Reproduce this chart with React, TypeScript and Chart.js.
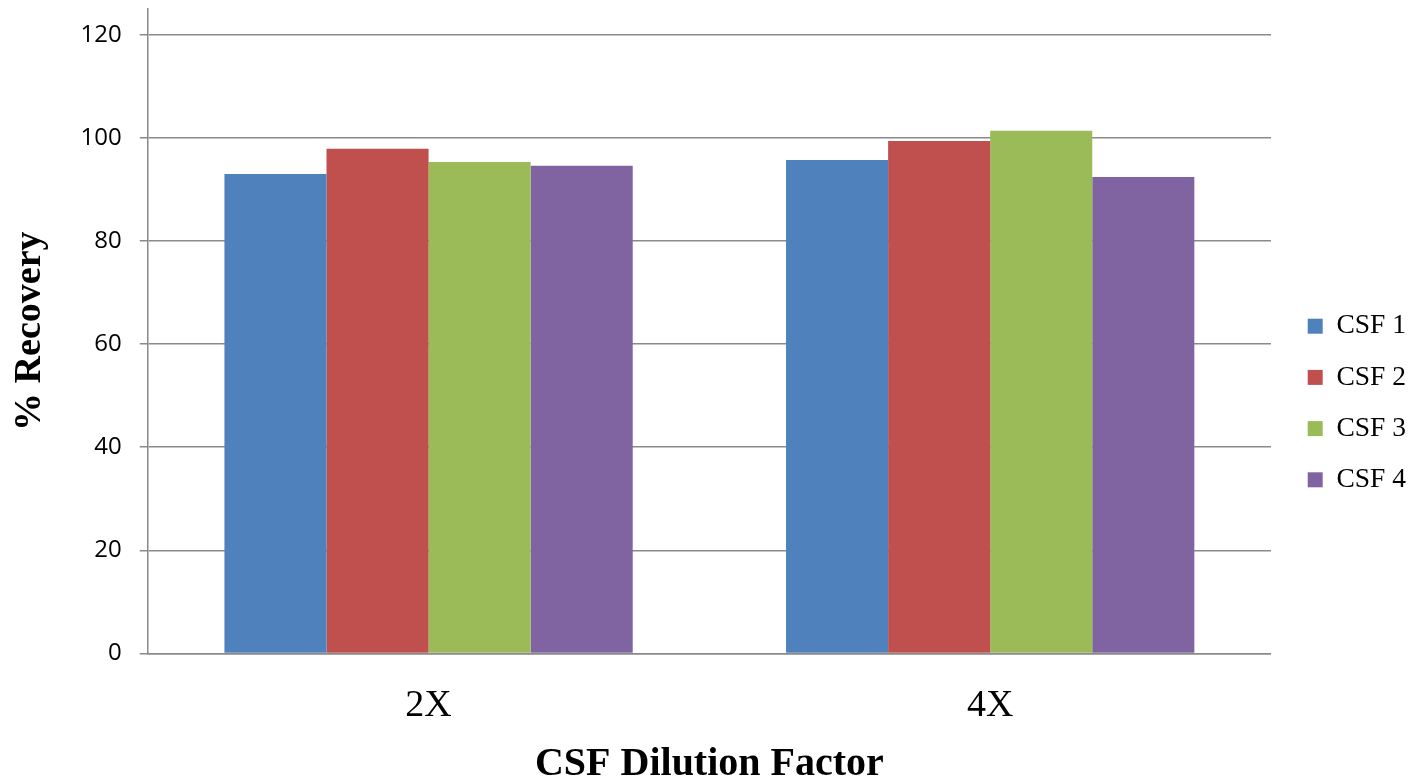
import React, { useEffect, useRef } from "react";
import { Chart, registerables } from "chart.js";

Chart.register(...registerables);

const categories = ["2X", "4X"];
const seriesNames = ["CSF 1", "CSF 2", "CSF 3", "CSF 4"];
const csf1 = [93.0, 95.7];
const csf2 = [97.9, 99.4];
const csf3 = [95.3, 101.4];
const csf4 = [94.6, 92.4];
const yTickValues = [0, 20, 40, 60, 80, 100, 120];
const colors = ["#4F81BD", "#C0504D", "#9BBB59", "#8064A2"];
const yTitle = "% Recovery";
const xTitle = "CSF Dilution Factor";

export default function App() {
  const ref = useRef<HTMLCanvasElement | null>(null);
  useEffect(() => {
    if (!ref.current) return;
    const values = [csf1, csf2, csf3, csf4];
    const legendShift = {
      id: "legendShift",
      afterLayout(chart: any) {
        const lg = chart.legend;
        if (!lg) return;
        lg.left += 13;
        lg.right += 13;
        lg.top += 4;
        lg.bottom += 4;
      },
    };
    const chart = new Chart(ref.current, {
      type: "bar",
      data: {
        labels: categories,
        datasets: seriesNames.map((n, i) => ({
          label: n,
          data: values[i],
          backgroundColor: colors[i],
          borderWidth: 0,
          barPercentage: 1,
          categoryPercentage: 0.727,
        })),
      },
      plugins: [legendShift],
      options: {
        animation: false,
        responsive: false,
        maintainAspectRatio: false,
        layout: { padding: { top: 9, right: 13, bottom: -8, left: 7 } },
        plugins: {
          tooltip: { enabled: false },
          legend: {
            position: "right",
            labels: {
              boxWidth: 15,
              boxHeight: 15,
              padding: 23.7,
              color: "#000",
              font: { family: "'Liberation Serif', serif", size: 27.5 },
            },
          },
        },
        scales: {
          x: {
            grid: { display: false },
            border: { display: true, color: "#8a8a8a", width: 1.5 },
            ticks: {
              color: "#000",
              padding: 22,
              font: { family: "'Liberation Serif', serif", size: 38 },
            },
            title: {
              display: true,
              text: xTitle,
              color: "#000",
              padding: { top: -10, bottom: 0 },
              font: { family: "'Liberation Serif', serif", size: 40, weight: "bold" },
            },
          },
          y: {
            min: 0,
            max: 125,
            afterBuildTicks: (scale: any) => {
              scale.ticks = yTickValues.map((v) => ({ value: v }));
            },
            afterFit: (scale: any) => {
              scale.paddingTop = 0;
            },
            ticks: {
              color: "#000",
              padding: 18,
              font: { family: "'Open Sans', sans-serif", size: 24 },
            },
            grid: { color: "#8a8a8a", lineWidth: 1.5, tickLength: 8, drawTicks: true },
            border: { display: true, color: "#8a8a8a", width: 1.5 },
            title: {
              display: true,
              text: yTitle,
              color: "#000",
              padding: { top: 0, bottom: 10 },
              font: { family: "'Liberation Serif', serif", size: 38, weight: "bold" },
            },
          },
        },
      },
    });
    return () => chart.destroy();
  }, []);
  return (
    <div style={{ position: "fixed", left: 0, top: 0, width: 1416, height: 781, background: "#fff" }}>
      <canvas ref={ref} width={1416} height={781} style={{ width: 1416, height: 781 }} />
    </div>
  );
}
